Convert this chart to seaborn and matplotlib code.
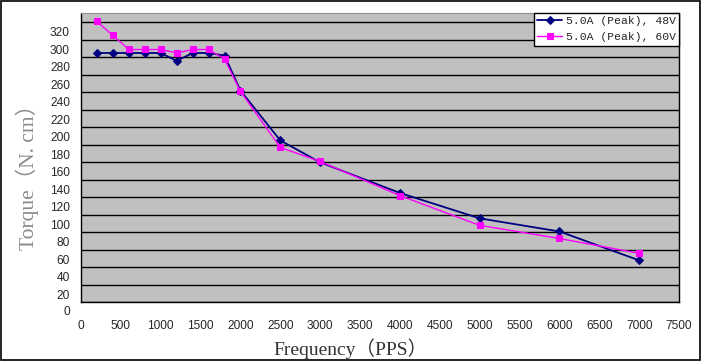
import numpy as np
import pandas as pd
import matplotlib
matplotlib.use("Agg")
import matplotlib.pyplot as plt
import seaborn as sns

# data (torque in N.cm, frequency in PPS)
freq_48v = [200, 400, 600, 800, 1000, 1200, 1400, 1600, 1800, 2000, 2500, 3000, 4000, 5000, 6000, 7000]
torque_48v = [296, 296, 296, 296, 296, 287, 296, 296, 293, 253, 196, 171, 136, 107, 92, 59]
freq_60v = [200, 400, 600, 800, 1000, 1200, 1400, 1600, 1800, 2000, 2500, 3000, 4000, 5000, 6000, 7000]
torque_60v = [332, 316, 300, 300, 300, 296, 300, 300, 289, 252, 188, 172, 133, 99, 84, 67]
labels = ["5.0A (Peak), 48V", "5.0A (Peak), 60V"]

x_ticks = list(range(0, 8000, 500))
y_ticks = list(range(0, 340, 20))

df = pd.concat([
    pd.DataFrame({"freq": freq_48v, "torque": torque_48v, "series": labels[0]}),
    pd.DataFrame({"freq": freq_60v, "torque": torque_60v, "series": labels[1]}),
])

sns.set_style("white")
plt.rcParams["font.family"] = ["Liberation Sans", "Noto Sans CJK SC"]

fig = plt.figure(figsize=(7.04, 3.61), dpi=100)
ax = fig.add_axes([81 / 704, 1 - 302 / 361, 598 / 704, 289 / 361])
ax.set_facecolor("#c0c0c0")

sns.lineplot(data=df[df.series == labels[0]], x="freq", y="torque", ax=ax,
             color="#000080", lw=1.3, marker="D", markersize=3.8,
             markeredgecolor="#000080", label=labels[0])
sns.lineplot(data=df[df.series == labels[1]], x="freq", y="torque", ax=ax,
             color="#ff00ff", lw=1.0, marker="s", markersize=5,
             markeredgecolor="#ff00ff", label=labels[1])

# the tick labels sit half a grid step below the grid lines in the original
ax.set_xlim(0, 7500)
ax.set_ylim(11.4, 341.7)
ax.set_xticks(x_ticks)
ax.set_yticks([t for t in y_ticks if t > 0])
ax.set_yticks(np.arange(11.4, 335, 20), minor=True)
ax.yaxis.grid(True, which="minor", color="black", lw=1)
ax.xaxis.grid(False)
ax.tick_params(axis="y", which="both", length=0, pad=8, labelsize=8.6)
ax.tick_params(axis="x", direction="in", length=4, width=1, color="black",
               pad=13, labelsize=8.6)
ax.annotate("0", xy=(0, 0), xycoords=("axes fraction", "data"),
            xytext=(-8, 0), textcoords="offset points", ha="right",
            va="center", fontsize=8.6, annotation_clip=False)

for side in ["left", "bottom", "right"]:
    ax.spines[side].set_color("black")
    ax.spines[side].set_linewidth(1)
ax.spines["top"].set_color("#909090")

ax.set_xlabel("Frequency（PPS）", family=["Liberation Serif", "Noto Sans CJK SC"],
              fontsize=14, color="#333333", va="bottom")
ax.xaxis.set_label_coords(0.45, -0.196)
ax.set_ylabel("Torque（N. cm）", family=["Liberation Serif", "Noto Sans CJK SC"],
              fontsize=15.5, color="#8c8c8c", va="center")
ax.yaxis.set_label_coords(-0.089, 0.45)

leg = ax.legend(loc="upper right", bbox_to_anchor=(1, 1), borderaxespad=0,
                fancybox=False, framealpha=1, edgecolor="black",
                prop={"family": "Liberation Mono", "size": 8.2},
                handlelength=2.2, borderpad=0.3, labelspacing=0.5,
                handletextpad=0.3)
leg.get_frame().set_linewidth(1)

fig.patches.append(plt.Rectangle((0.001, 0.002), 0.993, 0.995,
                                 transform=fig.transFigure, fill=False,
                                 ec="black", lw=1.2))

fig.savefig("out.png", dpi=100, facecolor="white")
